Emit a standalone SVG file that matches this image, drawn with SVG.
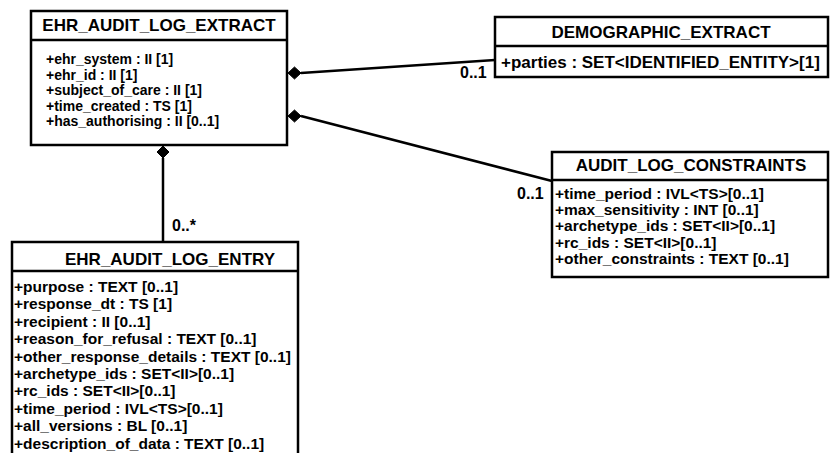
<svg xmlns="http://www.w3.org/2000/svg" width="830" height="453" viewBox="0 0 830 453">
<style>
.box{fill:#fff;stroke:#000;stroke-width:2.5}
.sep{stroke:#000;stroke-width:2.5}
.hd{font-family:"Liberation Sans",Arial,sans-serif;font-weight:bold;font-size:17px;fill:#000;text-anchor:middle}
.at{font-family:"Liberation Sans",Arial,sans-serif;font-weight:bold;font-size:15.5px;fill:#000}
.ex{font-size:14px}
.dm{font-size:17px}
.lbl{font-family:"Liberation Sans",Arial,sans-serif;font-weight:bold;font-size:16px;fill:#000}
.conn{stroke:#000;stroke-width:2.5;fill:none}
.dia{fill:#000;stroke:#000;stroke-width:1}
</style>
<g id="connectors">
<line class="conn" x1="301" y1="73" x2="495" y2="60"/>
<polygon class="dia" points="288,73 294.5,67 301,73 294.5,79"/>
<line class="conn" x1="301" y1="116" x2="552" y2="181"/>
<polygon class="dia" points="288,116 294.5,110 301,116 294.5,122"/>
<line class="conn" x1="163" y1="158" x2="163" y2="242"/>
<polygon class="dia" points="163,146 169,152 163,158 157,152"/>
<text class="lbl" x="460" y="78">0..1</text>
<text class="lbl" x="517" y="199">0..1</text>
<text class="lbl" x="172" y="231">0..*</text>
</g>
<g id="ehr_audit_log_extract">
<rect class="box" x="31" y="11" width="256" height="134"/>
<line class="sep" x1="31" y1="40" x2="287" y2="40"/>
<text class="hd" x="159" y="31">EHR_AUDIT_LOG_EXTRACT</text>
<text class="at ex" x="46" y="64">+ehr_system : II [1]</text>
<text class="at ex" x="46" y="79.5">+ehr_id : II [1]</text>
<text class="at ex" x="46" y="95">+subject_of_care : II [1]</text>
<text class="at ex" x="46" y="110.5">+time_created : TS [1]</text>
<text class="at ex" x="46" y="126">+has_authorising : II [0..1]</text>
</g>
<g id="demographic_extract">
<rect class="box" x="495" y="17" width="333" height="60"/>
<line class="sep" x1="495" y1="46" x2="828" y2="46"/>
<text class="hd" x="661" y="38">DEMOGRAPHIC_EXTRACT</text>
<text class="at dm" x="501" y="68">+parties : SET&lt;IDENTIFIED_ENTITY&gt;[1]</text>
</g>
<g id="audit_log_constraints">
<rect class="box" x="552" y="152" width="276" height="125"/>
<line class="sep" x1="552" y1="180" x2="828" y2="180"/>
<text class="hd" x="691" y="171">AUDIT_LOG_CONSTRAINTS</text>
<text class="at" x="555" y="199">+time_period : IVL&lt;TS&gt;[0..1]</text>
<text class="at" x="555" y="215">+max_sensitivity : INT [0..1]</text>
<text class="at" x="555" y="231">+archetype_ids : SET&lt;II&gt;[0..1]</text>
<text class="at" x="555" y="248">+rc_ids : SET&lt;II&gt;[0..1]</text>
<text class="at" x="555" y="264">+other_constraints : TEXT [0..1]</text>
</g>
<g id="ehr_audit_log_entry">
<rect class="box" x="12" y="242" width="286" height="220"/>
<line class="sep" x1="12" y1="271" x2="298" y2="271"/>
<text class="hd" x="170" y="265">EHR_AUDIT_LOG_ENTRY</text>
<text class="at" x="14" y="292">+purpose : TEXT [0..1]</text>
<text class="at" x="14" y="309.4">+response_dt : TS [1]</text>
<text class="at" x="14" y="326.8">+recipient : II [0..1]</text>
<text class="at" x="14" y="344.2">+reason_for_refusal : TEXT [0..1]</text>
<text class="at" x="14" y="361.6">+other_response_details : TEXT [0..1]</text>
<text class="at" x="14" y="379">+archetype_ids : SET&lt;II&gt;[0..1]</text>
<text class="at" x="14" y="396.4">+rc_ids : SET&lt;II&gt;[0..1]</text>
<text class="at" x="14" y="413.8">+time_period : IVL&lt;TS&gt;[0..1]</text>
<text class="at" x="14" y="431.2">+all_versions : BL [0..1]</text>
<text class="at" x="14" y="448.6">+description_of_data : TEXT [0..1]</text>
</g>
</svg>
